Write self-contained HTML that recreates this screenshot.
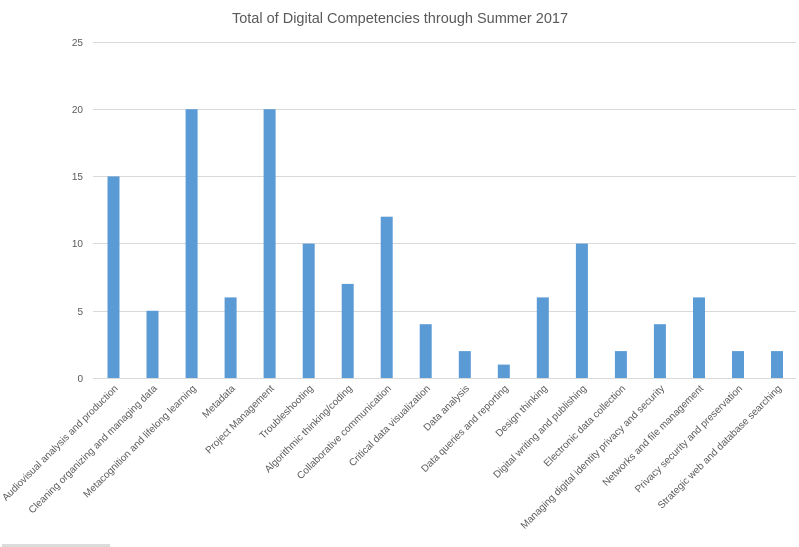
<!DOCTYPE html>
<html><head><meta charset="utf-8"><style>
html,body{margin:0;padding:0;background:#fff;}
svg{display:block;font-family:"Liberation Sans",sans-serif;}
</style></head><body>
<svg width="799" height="547" viewBox="0 0 799 547">
<text x="400" y="23" text-anchor="middle" font-size="14.5" fill="#595959">Total of Digital Competencies through Summer 2017</text>
<g stroke="#d9d9d9" stroke-width="1">
<line x1="93" x2="796" y1="42.5" y2="42.5"/>
<line x1="93" x2="796" y1="109.5" y2="109.5"/>
<line x1="93" x2="796" y1="176.5" y2="176.5"/>
<line x1="93" x2="796" y1="243.5" y2="243.5"/>
<line x1="93" x2="796" y1="311.5" y2="311.5"/>
<line x1="93" x2="796" y1="378.5" y2="378.5"/>
</g>
<g font-size="10" fill="#595959" text-anchor="end">
<text x="83" y="46">25</text><text x="83" y="113">20</text><text x="83" y="180">15</text>
<text x="83" y="247">10</text><text x="83" y="315">5</text><text x="83" y="382">0</text>
</g>
<g fill="#5b9bd5">
<rect x="107.5" y="176.4" width="12" height="201.6"/>
<rect x="146.5" y="310.8" width="12" height="67.2"/>
<rect x="185.6" y="109.2" width="12" height="268.8"/>
<rect x="224.6" y="297.4" width="12" height="80.6"/>
<rect x="263.6" y="109.2" width="12" height="268.8"/>
<rect x="302.7" y="243.6" width="12" height="134.4"/>
<rect x="341.7" y="283.9" width="12" height="94.1"/>
<rect x="380.7" y="216.7" width="12" height="161.3"/>
<rect x="419.7" y="324.2" width="12" height="53.8"/>
<rect x="458.8" y="351.1" width="12" height="26.9"/>
<rect x="497.8" y="364.6" width="12" height="13.4"/>
<rect x="536.8" y="297.4" width="12" height="80.6"/>
<rect x="575.9" y="243.6" width="12" height="134.4"/>
<rect x="614.9" y="351.1" width="12" height="26.9"/>
<rect x="653.9" y="324.2" width="12" height="53.8"/>
<rect x="693" y="297.4" width="12" height="80.6"/>
<rect x="732" y="351.1" width="12" height="26.9"/>
<rect x="771" y="351.1" width="12" height="26.9"/>
</g>
<g font-size="10" fill="#595959" text-anchor="end">
<text transform="translate(118.5,389) rotate(-45)">Audiovisual analysis and production</text>
<text transform="translate(157.5,389) rotate(-45)">Cleaning organizing and managing data</text>
<text transform="translate(196.6,389) rotate(-45)">Metacognition and lifelong learning</text>
<text transform="translate(235.6,389) rotate(-45)">Metadata</text>
<text transform="translate(274.6,389) rotate(-45)">Project Management</text>
<text transform="translate(313.7,389) rotate(-45)">Troubleshooting</text>
<text transform="translate(352.7,389) rotate(-45)">Algorithmic thinking/coding</text>
<text transform="translate(391.7,389) rotate(-45)">Collaborative communication</text>
<text transform="translate(430.7,389) rotate(-45)">Critical data visualization</text>
<text transform="translate(469.8,389) rotate(-45)">Data analysis</text>
<text transform="translate(508.8,389) rotate(-45)">Data queries and reporting</text>
<text transform="translate(547.8,389) rotate(-45)">Design thinking</text>
<text transform="translate(586.9,389) rotate(-45)">Digital writing and publishing</text>
<text transform="translate(625.9,389) rotate(-45)">Electronic data collection</text>
<text transform="translate(664.9,389) rotate(-45)">Managing digital identity privacy and security</text>
<text transform="translate(704,389) rotate(-45)">Networks and file management</text>
<text transform="translate(743,389) rotate(-45)">Privacy security and preservation</text>
<text transform="translate(782,389) rotate(-45)">Strategic web and database searching</text>
</g>
<rect x="2" y="544" width="108" height="3" fill="#dcdcdc"/>
</svg>
</body></html>
